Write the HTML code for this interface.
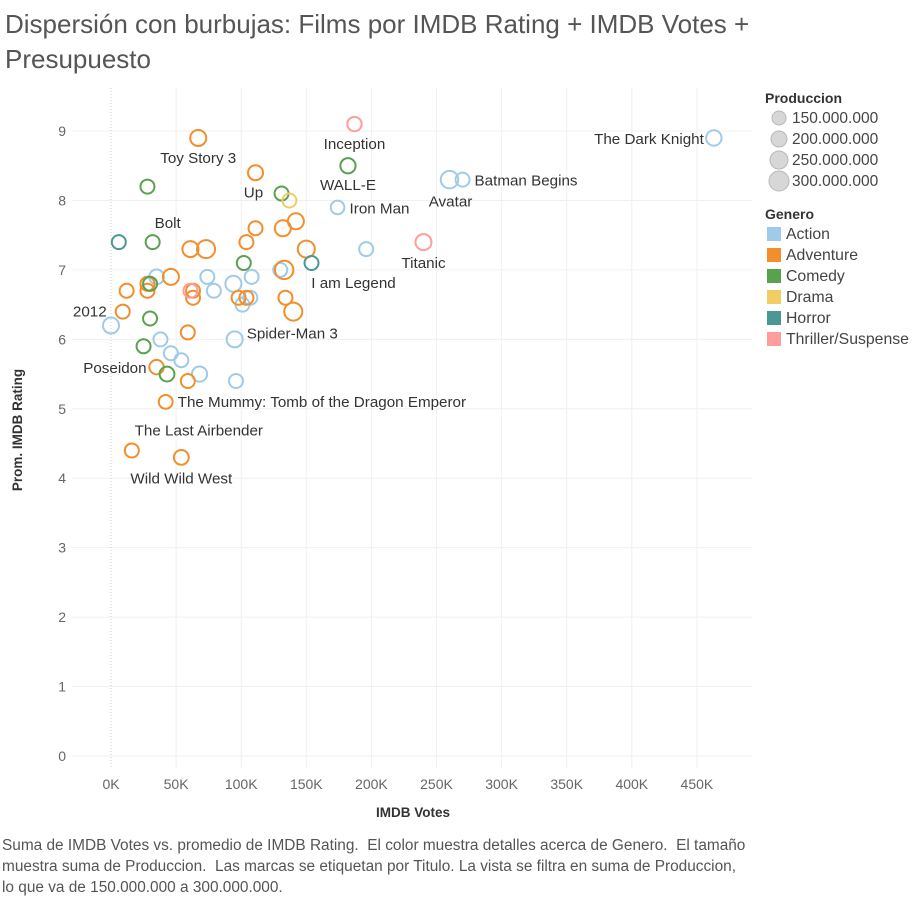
<!DOCTYPE html>
<html><head><meta charset="utf-8">
<style>
body{margin:0;background:#fff;font-family:"Liberation Sans",sans-serif;}
#wrap{position:relative;width:916px;height:900px;overflow:hidden;}
.title{position:absolute;left:5px;top:7px;font-size:26px;line-height:35px;color:#555;}
.caption{position:absolute;left:2px;top:835px;font-size:15.4px;line-height:21px;color:#555;width:910px;white-space:nowrap;}
</style></head><body>
<div id="wrap">
<div class="title">Dispersión con burbujas: Films por IMDB Rating + IMDB Votes +<br>Presupuesto</div>
<svg id="chart" width="916" height="900" style="position:absolute;left:0;top:0"></svg>
<div class="caption">Suma de IMDB Votes vs. promedio de IMDB Rating.&nbsp; El color muestra detalles acerca de Genero.&nbsp; El tamaño<br>muestra suma de Produccion.&nbsp; Las marcas se etiquetan por Titulo. La vista se filtra en suma de Produccion,<br>lo que va de 150.000.000 a 300.000.000.</div>
</div>
<script>
const votes=[463,270,260,174,196,130,0,35,74,79,94,108,101,107,38,46,54,68,96,95, 67,111,61,73,104,111,132,142,150,133,12,28,28,46,63,63,9,98,104,134,140,59,35,59,42,16,54, 28,32,30,30,25,43,102,131,182, 137, 6,154, 187,240,61];
const ratings=[8.9,8.3,8.3,7.9,7.3,7.0,6.2,6.9,6.9,6.7,6.8,6.9,6.5,6.6,6.0,5.8,5.7,5.5,5.4,6.0, 8.9,8.4,7.3,7.3,7.4,7.6,7.6,7.7,7.3,7.0,6.7,6.8,6.7,6.9,6.7,6.6,6.4,6.6,6.6,6.6,6.4,6.1,5.6,5.4,5.1,4.4,4.3, 8.2,7.4,6.8,6.3,5.9,5.5,7.1,8.1,8.5, 8.0, 7.4,7.1, 9.1,7.4,6.7];
const genres=["Action","Action","Action","Action","Action","Action","Action","Action","Action","Action","Action","Action","Action","Action","Action","Action","Action","Action","Action","Action",
"Adventure","Adventure","Adventure","Adventure","Adventure","Adventure","Adventure","Adventure","Adventure","Adventure","Adventure","Adventure","Adventure","Adventure","Adventure","Adventure","Adventure","Adventure","Adventure","Adventure","Adventure","Adventure","Adventure","Adventure","Adventure","Adventure","Adventure",
"Comedy","Comedy","Comedy","Comedy","Comedy","Comedy","Comedy","Comedy","Comedy","Drama","Horror","Horror","Thriller/Suspense","Thriller/Suspense","Thriller/Suspense"];
const production=[185,150,237,140,150,150,200,170,150,150,200,150,150,150,150,150,150,180,150,200, 200,175,200,250,150,150,200,200,225,260,150,150,150,200,150,150,150,150,150,150,250,150,160,150,145,150,170, 150,150,150,150,150,170,150,150,180, 150, 150,150, 160,200,150];
const titles=["The Dark Knight","Batman Begins","Avatar","Iron Man","","","","","","","","","","","","","","","","Spider-Man 3", "Toy Story 3","Up","","","","","","","","","","","","","","","2012","","","","","","Poseidon","","The Mummy: Tomb of the Dragon Emperor","The Last Airbender","Wild Wild West", "","Bolt","","","","","","","WALL-E","", "","I am Legend", "Inception","Titanic",""];
const xTicks=[0,50,100,150,200,250,300,350,400,450];
const yTicks=[0,1,2,3,4,5,6,7,8,9];
const genreNames=["Action","Adventure","Comedy","Drama","Horror","Thriller/Suspense"];
const genreColors=["#a0cbe8","#f28e2b","#59a14f","#f1ce63","#499894","#ff9d9a"];
const legendSizes=[150,200,250,300];
const legendSizeLabels=["150.000.000","200.000.000","250.000.000","300.000.000"];
// label placement offsets (relative to mark): [dx, dy, anchor]
const labelPlace={"The Dark Knight":[-10,6,"end"],"Batman Begins":[12,6,"start"],"Avatar":[1,27,"middle"],"Iron Man":[12,6,"start"],
"Spider-Man 3":[12,-1,"start"],"Toy Story 3":[0,25,"middle"],"Up":[-2,25,"middle"],"2012":[-16,5,"end"],"Poseidon":[-10,6,"end"],
"The Mummy: Tomb of the Dragon Emperor":[12,5,"start"],"The Last Airbender":[67,-15,"middle"],"Wild Wild West":[0,26,"middle"],
"Bolt":[15,-14,"middle"],"WALL-E":[0,24,"middle"],"I am Legend":[42,25,"middle"],"Inception":[0,25,"middle"],"Titanic":[0,26,"middle"]};

const NS="http://www.w3.org/2000/svg";
const svg=document.getElementById("chart");
const L=72,R=752,T=88,B=768;
const x=v=>111+v*1.302;
const y=v=>756-v*69.44;
const rs=p=>7+ (p-150)/150*3;
function mk(tag,attrs,parent){const e=document.createElementNS(NS,tag);for(const k in attrs)e.setAttribute(k,attrs[k]);(parent||svg).appendChild(e);return e;}

yTicks.forEach(t=>{
  const g=mk("line",{x1:L,x2:R,y1:y(t),y2:y(t),stroke:"#f0f0f0","stroke-width":1});
  
  
  const lb=mk("text",{x:66,y:y(t)+5,"text-anchor":"end","font-size":"14",fill:"#666"});
  lb.textContent=t;
  
  
});
xTicks.forEach(t=>{
  const g=mk("line",{x1:x(t),x2:x(t),y1:T,y2:B,stroke:t===0?"#cfcfcf":"#f0f0f0","stroke-width":1,"stroke-dasharray":t===0?"1,2":"none"});
  
  
  const lb=mk("text",{x:x(t),y:789,"text-anchor":"middle","font-size":"14",fill:"#666"});
  lb.textContent=t+"K";
  
  
});
const xt=mk("text",{x:413,y:817,"text-anchor":"middle","font-size":"13.5","font-weight":"bold",fill:"#333"});
xt.textContent="IMDB Votes";


const yt=mk("text",{x:0,y:0,"text-anchor":"middle","font-size":"13.5","font-weight":"bold",fill:"#333",transform:"translate(22,430) rotate(-90)"});
yt.textContent="Prom. IMDB Rating";



votes.forEach((v,i)=>{
  const c=mk("circle",{cx:x(v),cy:y(ratings[i]),r:rs(production[i]),fill:"none",stroke:genreColors[genreNames.indexOf(genres[i])],"stroke-width":2});
  
  
});
votes.forEach((v,i)=>{
  const t=titles[i]; if(!t)return;
  const p=labelPlace[t]||[12,5,"start"];
  const e=mk("text",{x:x(v)+p[0],y:y(ratings[i])+p[1],"text-anchor":p[2],"font-size":"15.2",fill:"#333"});
  e.textContent=t;
  
  
});

// legends
const lt=mk("text",{x:765,y:103,"font-size":"14","font-weight":"bold",fill:"#333"});
lt.textContent="Produccion";


legendSizes.forEach((s,i)=>{
  const cy=118+i*21;
  const c=mk("circle",{cx:779,cy:cy,r:rs(s),fill:"#d7d7d7",stroke:"#b8b8b8","stroke-width":1});
  
  
  const t=mk("text",{x:792,y:cy+5,"font-size":"15.5",fill:"#444"});
  t.textContent=legendSizeLabels[i];
  
  
});
const gt=mk("text",{x:765,y:219,"font-size":"14","font-weight":"bold",fill:"#333"});
gt.textContent="Genero";


genreNames.forEach((g,i)=>{
  const cy=234+i*21;
  const r=mk("rect",{x:767,y:cy-7,width:14,height:14,fill:genreColors[i]});
  
  
  const t=mk("text",{x:786,y:cy+5,"font-size":"15.8",fill:"#444"});
  t.textContent=g;
  
  
});
</script>
</body></html>
